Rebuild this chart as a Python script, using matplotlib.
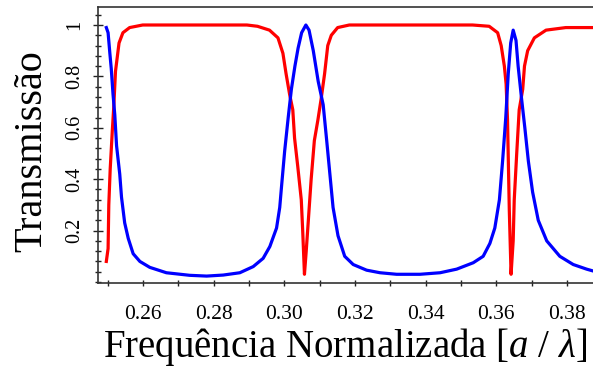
import matplotlib
matplotlib.use("Agg")
import matplotlib.pyplot as plt
from matplotlib.ticker import MultipleLocator

# values
red_freq = [0.2496, 0.2501, 0.2503, 0.2507, 0.2513, 0.2517, 0.2522, 0.2532, 0.2543,
            0.2562, 0.2599, 0.2700, 0.2800, 0.2894, 0.2924, 0.2958, 0.2982, 0.2996,
            0.3005, 0.3015, 0.3024, 0.3029, 0.3038, 0.3048, 0.3052, 0.3057, 0.3062,
            0.3066, 0.3076, 0.3085, 0.3095, 0.3104, 0.3114, 0.3123, 0.3133, 0.3151,
            0.3184, 0.3300, 0.3450, 0.3533, 0.3580, 0.3604, 0.3614, 0.3623, 0.3628,
            0.3632, 0.3637, 0.3642, 0.3648, 0.3651, 0.3658, 0.3665, 0.3675, 0.3680,
            0.3689, 0.3708, 0.3741, 0.3797, 0.3874]
red_trans = [0.08, 0.13, 0.30, 0.44, 0.59, 0.68, 0.82, 0.93, 0.97,
             0.99, 1.00, 1.00, 1.00, 1.00, 0.995, 0.98, 0.95, 0.89,
             0.81, 0.73, 0.67, 0.56, 0.45, 0.32, 0.20, 0.03, 0.12,
             0.20, 0.40, 0.55, 0.63, 0.71, 0.81, 0.92, 0.96, 0.99,
             1.00, 1.00, 1.00, 1.00, 0.995, 0.97, 0.92, 0.84, 0.77,
             0.63, 0.28, 0.03, 0.16, 0.32, 0.50, 0.67, 0.75, 0.84,
             0.90, 0.95, 0.98, 0.99, 0.99]

blue_freq = [0.2496, 0.2501, 0.2506, 0.2510, 0.2515, 0.2520, 0.2525, 0.2534, 0.2539,
             0.2548, 0.2558, 0.2572, 0.2591, 0.2619, 0.2666, 0.2732, 0.2780, 0.2827,
             0.2874, 0.2912, 0.2940, 0.2959, 0.2978, 0.2987, 0.2992, 0.3001, 0.3011,
             0.3020, 0.3030, 0.3039, 0.3049, 0.3061, 0.3070, 0.3082, 0.3096, 0.3110,
             0.3120, 0.3129, 0.3138, 0.3152, 0.3171, 0.3195, 0.3233, 0.3271, 0.3318,
             0.3384, 0.3441, 0.3488, 0.3535, 0.3563, 0.3582, 0.3596, 0.3609, 0.3618,
             0.3627, 0.3634, 0.3641, 0.3648, 0.3656, 0.3662, 0.3672, 0.3681, 0.3691,
             0.3703, 0.3719, 0.3743, 0.3780, 0.3818, 0.3856, 0.3874]
blue_trans = [0.99, 0.97, 0.89, 0.83, 0.73, 0.65, 0.53, 0.42, 0.33,
              0.23, 0.17, 0.11, 0.08, 0.057, 0.036, 0.026, 0.023, 0.027,
              0.036, 0.060, 0.092, 0.138, 0.21, 0.29, 0.37, 0.51, 0.64,
              0.75, 0.84, 0.91, 0.97, 1.00, 0.98, 0.90, 0.78, 0.69,
              0.55, 0.42, 0.29, 0.18, 0.10, 0.068, 0.046, 0.036, 0.03,
              0.03, 0.036, 0.05, 0.075, 0.10, 0.15, 0.21, 0.32, 0.47,
              0.64, 0.81, 0.93, 0.98, 0.94, 0.84, 0.71, 0.60, 0.47,
              0.35, 0.24, 0.16, 0.10, 0.068, 0.05, 0.043]

x_ticks = [0.26, 0.28, 0.30, 0.32, 0.34, 0.36, 0.38]
y_ticks = [0.2, 0.4, 0.6, 0.8, 1.0]
y_tick_labels = ["0.2", "0.4", "0.6", "0.8", "1"]

plt.rcParams["font.family"] = ["Liberation Serif", "DejaVu Serif"]
plt.rcParams["mathtext.fontset"] = "custom"
plt.rcParams["mathtext.it"] = "Liberation Serif:italic"
plt.rcParams["mathtext.rm"] = "Liberation Serif"

fig = plt.figure(figsize=(5.93, 3.69), dpi=100)
ax = fig.add_axes([0.165, 0.233, 0.835, 0.748])

ax.plot(red_freq, red_trans, color="#ff0000", lw=2.3)
ax.plot(blue_freq, blue_trans, color="#0000ff", lw=2.3)

ax.set_xlim(0.2472, 0.3874)
ax.set_ylim(-0.004, 1.07)

ax.set_xticks(x_ticks)
ax.set_xticklabels([f"{t:.2f}" for t in x_ticks])
ax.xaxis.set_minor_locator(MultipleLocator(0.01))
ax.set_yticks(y_ticks)
ax.set_yticklabels(y_tick_labels, rotation=90, va="center")
ax.yaxis.set_minor_locator(MultipleLocator(0.04))

ax.tick_params(axis="x", which="both", direction="inout", length=4, width=1,
               color="#222222", labelsize=15.5, pad=14)
ax.tick_params(axis="y", which="major", direction="inout", length=7, width=1,
               color="#222222", labelsize=14.5, pad=6)
ax.tick_params(axis="y", which="minor", direction="inout", length=5, width=1,
               color="#222222")

for side in ["left", "bottom", "top"]:
    ax.spines[side].set_color("#333333")
    ax.spines[side].set_linewidth(1.2)
ax.spines["right"].set_visible(False)

ax.set_xlabel(r"Frequência Normalizada [$a$ / $\lambda$]", fontsize=28, labelpad=1)
ax.set_ylabel("Transmissão", fontsize=29)
ax.yaxis.set_label_coords(-0.097, 0.478)

fig.savefig("out.png", dpi=100)
